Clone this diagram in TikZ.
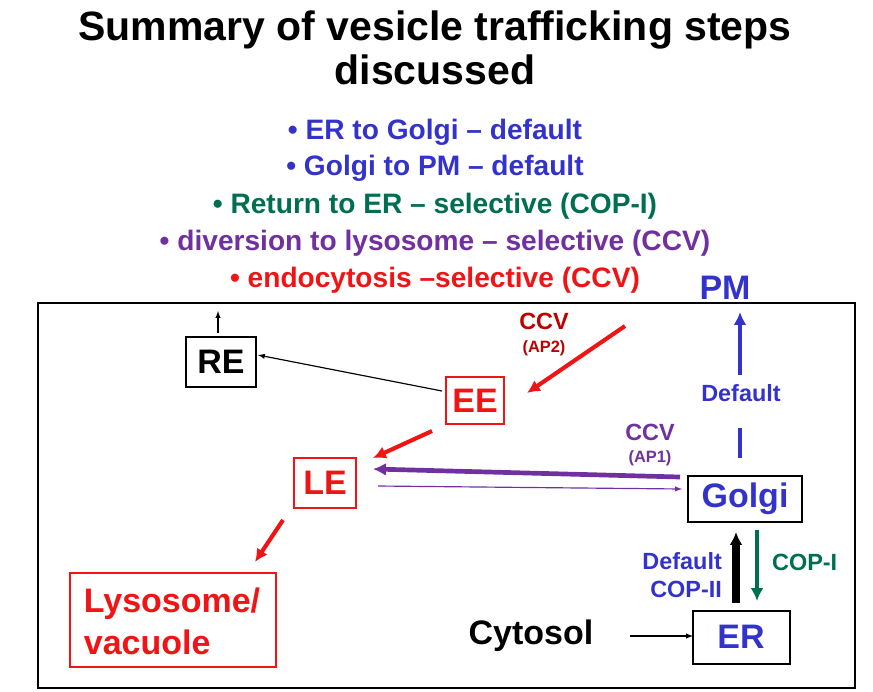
\documentclass[tikz,border=0pt]{standalone}
\usepackage{fontspec}
\setmainfont{Liberation Sans}
\usetikzlibrary{arrows.meta}
\begin{document}
\definecolor{bl}{RGB}{51,51,204}
\definecolor{gr}{RGB}{0,110,80}
\definecolor{pu}{RGB}{112,48,160}
\definecolor{rd}{RGB}{240,20,20}
\definecolor{drd}{RGB}{190,0,0}
\begin{tikzpicture}[x=0.03cm,y=-0.03cm,
  bx/.style={font=\bfseries\fontsize{29}{31}\selectfont},
  bul/.style={font=\bfseries\fontsize{24}{26}\selectfont},
  lab/.style={font=\bfseries\fontsize{20}{24}\selectfont},
  sml/.style={font=\bfseries\fontsize{14}{16}\selectfont},
  arr/.style={-{Latex[length=11pt,width=11pt]},line width=3.5pt}]
\useasboundingbox (0,0) rectangle (873,691);
\node[font=\bfseries\fontsize{35}{38}\selectfont,align=center] (t) at (435,48) {Summary of vesicle trafficking steps\\discussed};
\node[bul,text=bl] (b1) at (435,132) {• ER to Golgi – default};
\node[bul,text=bl] (b2) at (435,168) {• Golgi to PM – default};
\node[bul,text=gr] (b3) at (435,206) {• Return to ER – selective (COP-I)};
\node[bul,text=pu] (b4) at (435,243) {• diversion to lysosome – selective (CCV)};
\node[bul,text=rd] (b5) at (435,280) {• endocytosis –selective (CCV)};
\draw[line width=1.5pt] (38,303) rectangle (855,688);
\node[bx,text=bl] (pm) at (725,288) {PM};
\draw[line width=1.5pt] (186,337) rectangle (256,387);
\node[bx] (ret) at (221,362) {RE};
\draw[line width=1.5pt,draw=rd] (446,377) rectangle (504,424);
\node[bx,text=rd] (ee) at (475,401) {EE};
\draw[line width=1.5pt,draw=rd] (294,458) rectangle (356,508);
\node[bx,text=rd] (le) at (325,483) {LE};
\draw[line width=1.5pt,draw=rd] (70,573) rectangle (276,667);
\node[font=\bfseries\fontsize{29}{36}\selectfont,text=rd,align=left] (ly) at (172,621) {Lysosome/\\vacuole};
\draw[line width=1.5pt] (688,476) rectangle (802,522);
\node[bx,text=bl] (go) at (745,499) {Golgi};
\draw[line width=1.5pt] (693,611) rectangle (790,664);
\node[bx,text=bl] (er) at (741,637) {ER};
\node[bx] (cy) at (531,636) {Cytosol};
\coordinate (cyE) at (630,636); \coordinate (erW) at (693,636);
\draw[-latex,line width=1pt] (cyE) -- (erW);
\coordinate (reT) at (218,333); \coordinate (reU) at (218,311);
\draw[-latex,line width=1pt] (reT) -- (reU);
\coordinate (eeW) at (442,391); \coordinate (reE) at (258,355);
\draw[-latex,line width=1pt] (eeW) -- (reE);
\coordinate (c1) at (625,326); \coordinate (eeNE) at (527,393);
\draw[arr,rd] (c1) -- (eeNE);
\node[lab,text=drd] (ccv1) at (544,321) {CCV};
\node[sml,text=drd] (ap2) at (544,348) {(AP2)};
\coordinate (eeSW) at (432,431); \coordinate (leNE) at (373,458);
\draw[arr,rd] (eeSW) -- (leNE);
\coordinate (leS) at (283,520); \coordinate (lyN) at (255,562);
\draw[arr,rd] (leS) -- (lyN);
\coordinate (goW1) at (680,477); \coordinate (leE1) at (373,469);
\draw[arr,pu,line width=4pt] (goW1) -- (leE1);
\coordinate (leE2) at (378,486); \coordinate (goW2) at (682,489);
\draw[-latex,pu,line width=1pt] (leE2) -- (goW2);
\node[lab,text=pu] (ccv2) at (650,432) {CCV};
\node[sml,text=pu] (ap1) at (650,458) {(AP1)};
\coordinate (goN) at (740,458); \coordinate (g1) at (740,428);
\draw[bl,line width=3.5pt] (goN) -- (g1);
\node[lab,text=bl] (def) at (741,393) {Default};
\coordinate (g2) at (740,375); \coordinate (pmS) at (740,312);
\draw[arr,bl] (g2) -- (pmS);
\coordinate (erN1) at (736,603); \coordinate (goS1) at (736,532);
\draw[arr,black,line width=6pt] (erN1) -- (goS1);
\coordinate (goS2) at (757,530); \coordinate (erN2) at (757,601);
\draw[arr,gr] (goS2) -- (erN2);
\node[lab,text=bl,align=right,anchor=east] (dc) at (726,575) {Default\\COP-II};
\node[lab,text=gr,anchor=west] (cop1) at (768,562) {COP-I};
\end{tikzpicture}
\end{document}
